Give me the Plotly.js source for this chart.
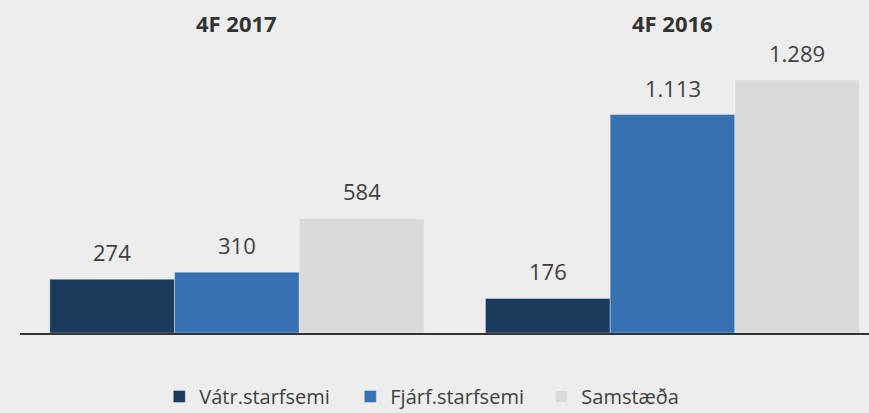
<!DOCTYPE html>
<html><head><meta charset="utf-8">
<script src="https://cdn.plot.ly/plotly-3.0.1.min.js"></script>
<style>html,body{margin:0;padding:0;background:#EDEDED;}#chart{width:869px;height:413px;}</style>
</head><body><div id="chart"></div>
<script>
const categories = ["4F 2017", "4F 2016"];
const seriesNames = ["Vátr.starfsemi", "Fjárf.starfsemi", "Samstæða"];
const vatr = [274, 176];
const fjarf = [310, 1113];
const samst = [584, 1289];
const colors = ["#1B3A5C", "#3671B4", "#D9DADA"];

function fmt(v){ return String(v).replace(/\B(?=(\d{3})+(?!\d))/g, "."); }

const seriesVals = [vatr, fjarf, samst];
const bargap = 0.141;
const bw = (1 - bargap) / 3;
const traces = seriesVals.map((vals, i) => ({
  type: "bar", name: seriesNames[i], x: categories, y: vals,
  marker: {color: colors[i], line: {color: "rgba(255,255,255,0.35)", width: 1}},
  hoverinfo: "none"
}));

const annotations = [];
seriesVals.forEach((vals, i) => {
  vals.forEach((v, j) => {
    annotations.push({x: j + (i - 1) * bw, y: v, xref: "x", yref: "y", text: fmt(v),
      showarrow: false, yanchor: "bottom", yshift: 10,
      font: {family: "Open Sans", size: 22, color: "#404040"}});
  });
});
categories.forEach((c, j) => {
  annotations.push({x: j, y: 1, xref: "x", yref: "paper", text: "<b>" + c + "</b>",
    showarrow: false, yanchor: "middle", yshift: -3,
    font: {family: "Open Sans", size: 22, color: "#333333"}});
});

const layout = {
  width: 869, height: 413,
  paper_bgcolor: "#EDEDED", plot_bgcolor: "#EDEDED",
  margin: {l: 20, r: 0, t: 20, b: 80, autoexpand: false},
  barmode: "group", bargap: bargap, bargroupgap: 0,
  showlegend: true,
  legend: {orientation: "h", x: 0.513, xanchor: "center", xref: "container",
    y: 0.04, yanchor: "middle", yref: "container",
    entrywidth: 146, entrywidthmode: "pixels", tracegroupgap: 0,
    font: {family: "Open Sans", size: 20, color: "#404040"}, bgcolor: "rgba(0,0,0,0)"},
  xaxis: {type: "category", range: [-0.498, 1.451], showticklabels: false, showline: true,
    linecolor: "#333333", linewidth: 1.5, ticks: "", showgrid: false, zeroline: false, fixedrange: true},
  yaxis: {range: [0, 1595], visible: false, showgrid: false, zeroline: false},
  annotations: annotations
};
Plotly.newPlot("chart", traces, layout, {displayModeBar: false, staticPlot: true});
</script></body></html>
